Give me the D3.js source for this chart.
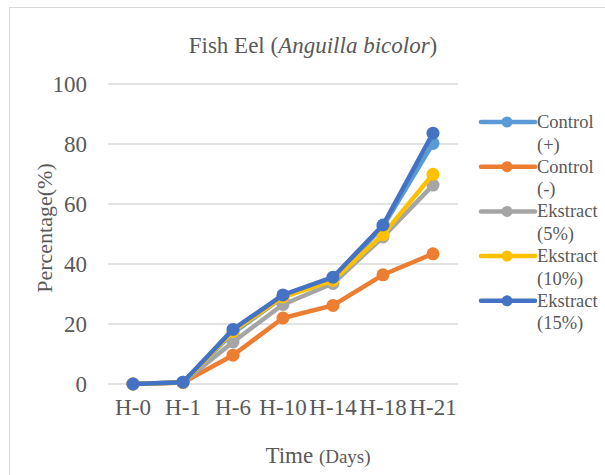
<!DOCTYPE html>
<html><head><meta charset="utf-8">
<script src="https://cdn.jsdelivr.net/npm/d3@7"></script>
<style>body{margin:0;background:#fff}svg{display:block}</style>
</head><body>
<svg id="c" width="605" height="475"></svg>
<script>
const categories = ["H-0","H-1","H-6","H-10","H-14","H-18","H-21"];
const seriesNames = [["Control","(+)"],["Control","(-)"],["Ekstract","(5%)"],["Ekstract","(10%)"],["Ekstract","(15%)"]];
const controlPos = [0, 0.6, 17, 29, 35, 52.5, 80.2];
const controlNeg = [0, 0.5, 9.6, 22, 26.2, 36.4, 43.4];
const ekstract5  = [0, 0.5, 14, 26.5, 33.5, 49, 66.3];
const ekstract10 = [0, 0.5, 17.5, 29, 34.5, 49.8, 69.9];
const ekstract15 = [0, 0.6, 18.2, 29.7, 35.6, 53, 83.6];
const colors = ["#5b9bd5","#ed7d31","#a5a5a5","#ffc000","#4472c4"];
const yTicks = [0,20,40,60,80,100];

const svg = d3.select("#c");
const textColor = "#595959";
const font = "Liberation Serif, Times New Roman, serif";

svg.append("rect").attr("x",9.5).attr("y",7.5).attr("width",620).attr("height",480)
  .attr("fill","none").attr("stroke","#d9d9d9").attr("stroke-width",1);

const x = d3.scaleBand().domain(categories).range([108,458]);
const y = d3.scaleLinear().domain([0,100]).range([384,84]);

svg.append("g").selectAll("line").data(yTicks).join("line")
  .attr("x1",108).attr("x2",458).attr("y1",d=>y(d)).attr("y2",d=>y(d))
  .attr("stroke","#d9d9d9").attr("stroke-width",1.3);

const ya = svg.append("g").attr("transform","translate(100,0)")
  .call(d3.axisLeft(y).tickValues(yTicks).tickSize(0).tickPadding(13));
ya.select(".domain").remove();
ya.attr("font-family",font).attr("font-size",23);
ya.selectAll("text").attr("fill",textColor);

const xa = svg.append("g").attr("transform","translate(0,399)")
  .call(d3.axisBottom(x).tickSize(0).tickPadding(0));
xa.select(".domain").remove();
xa.attr("font-family",font).attr("font-size",23);
xa.selectAll("text").attr("fill",textColor);

const t = svg.append("text").attr("x",313).attr("y",53).attr("text-anchor","middle")
  .attr("font-family",font).attr("font-size",23).attr("fill",textColor);
t.append("tspan").text("Fish Eel (");
t.append("tspan").attr("font-style","italic").text("Anguilla bicolor");
t.append("tspan").text(")");

const xt = svg.append("text").attr("x",318).attr("y",463).attr("text-anchor","middle")
  .attr("font-family",font).attr("fill",textColor);
xt.append("tspan").attr("font-size",23).text("Time ");
xt.append("tspan").attr("font-size",19).text("(Days)");

svg.append("text").attr("transform","translate(52,228) rotate(-90)").attr("text-anchor","middle")
  .attr("font-family",font).attr("font-size",22).attr("fill",textColor).text("Percentage(%)");

const data = [controlPos, controlNeg, ekstract5, ekstract10, ekstract15];
const line = d3.line().x((d,i)=>x(categories[i])+x.bandwidth()/2).y(d=>y(d));
data.forEach((s,k)=>{
  const g = svg.append("g");
  g.append("path").attr("d",line(s)).attr("fill","none").attr("stroke",colors[k])
    .attr("stroke-width",4.5).attr("stroke-linejoin","round").attr("stroke-linecap","round");
  g.selectAll("circle").data(s).join("circle")
    .attr("cx",(d,i)=>x(categories[i])+x.bandwidth()/2).attr("cy",d=>y(d)).attr("r",6.5)
    .attr("fill",colors[k]);
});

const leg = svg.append("g");
seriesNames.forEach((n,k)=>{
  const ly = 122 + k*44.7;
  leg.append("line").attr("x1",481).attr("x2",535).attr("y1",ly).attr("y2",ly)
    .attr("stroke",colors[k]).attr("stroke-width",4.5).attr("stroke-linecap","round");
  leg.append("circle").attr("cx",507).attr("cy",ly).attr("r",5.5).attr("fill",colors[k]);
  const tx = leg.append("text").attr("font-family",font).attr("font-size",18.5).attr("fill",textColor);
  tx.append("tspan").attr("x",537).attr("y",ly+6).text(n[0]);
  tx.append("tspan").attr("x",537).attr("y",ly+28.5).text(n[1]);
});
</script>
</body></html>
